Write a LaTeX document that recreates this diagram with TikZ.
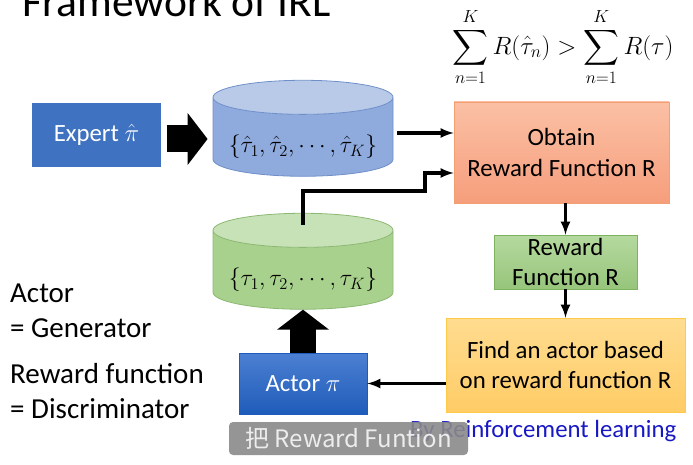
\RequirePackage{fix-cm}
\documentclass[tikz,border=0pt]{standalone}
\usepackage{exscale}
\usepackage{fontspec}
\setmainfont{Carlito}
\newfontfamily\cjkfont{Noto Sans CJK SC}
\usetikzlibrary{arrows,arrows.meta,shapes.geometric}

\definecolor{expertblue}{HTML}{3F72C1}
\definecolor{actortop}{HTML}{4C80D2}
\definecolor{actorbot}{HTML}{1F5CBA}
\definecolor{bluebody}{HTML}{8FAADC}
\definecolor{bluetop}{HTML}{B8CAE8}
\definecolor{blueline}{HTML}{6F8FC9}
\definecolor{greenbody}{HTML}{A9D18E}
\definecolor{greentop}{HTML}{C8E2B8}
\definecolor{greenline}{HTML}{8BB872}
\definecolor{obtaintop}{HTML}{FBC0A5}
\definecolor{obtainbot}{HTML}{F69E7C}
\definecolor{obtainline}{HTML}{F2A072}
\definecolor{rewardtop}{HTML}{B5D99F}
\definecolor{rewardbot}{HTML}{97C57B}
\definecolor{rewardline}{HTML}{7DB35F}
\definecolor{findtop}{HTML}{FFDC90}
\definecolor{findbot}{HTML}{FFCC66}
\definecolor{findline}{HTML}{FFC94A}
\definecolor{rlblue}{HTML}{1818C4}
\definecolor{subgray}{HTML}{8A8A8A}

\tikzset{
  box/.style={draw,line width=0.8pt,align=center,inner sep=0pt,
    font=\fontsize{24.8}{30.5}\selectfont},
  db/.style={cylinder,shape border rotate=90,aspect=0.23,draw,line width=0.8pt,
    minimum width=180pt,minimum height=96pt,inner sep=0pt,
    cylinder uses custom fill,font=\fontsize{23.5}{30}\selectfont},
  conn/.style={-latex,line width=3.4pt},
  bigarrow/.style={line width=27pt,-{Triangle[length=20pt,width=51pt]}},
  side/.style={anchor=base west,inner sep=0pt,font=\fontsize{29}{34}\selectfont},
}

\begin{document}
\begin{tikzpicture}[x=1pt,y=-1pt]
\useasboundingbox (0,0) rectangle (693,465);
\node[anchor=base west,inner sep=0pt,font=\fontsize{43.5}{50}\selectfont] (title) at (22,17) {Framework of IRL};
\node[inner sep=0pt,font=\fontsize{25}{30}\selectfont] (goal) at (563,47) {$\displaystyle\sum_{n=1}^{K} R(\hat{\tau}_n) > \sum_{n=1}^{K} R(\tau)$};
\node[box,draw=expertblue,fill=expertblue,text=white,minimum width=128pt,minimum height=63pt] (expert) at (96.5,134.5) {Expert $\hat{\pi}$};
\node[db,draw=blueline,cylinder body fill=bluebody,cylinder end fill=bluetop] (demo) at (303,137) {\raisebox{-10pt}[\height][\depth]{$\{\hat{\tau}_1,\hat{\tau}_2,\cdots,\hat{\tau}_K\}$}};
\node[db,draw=greenline,cylinder body fill=greenbody,cylinder end fill=greentop] (green) at (303,270) {\raisebox{-10pt}[\height][\depth]{$\{\tau_1,\tau_2,\cdots,\tau_K\}$}};
\node[box,draw=obtainline,top color=obtaintop,bottom color=obtainbot,minimum width=215pt,minimum height=101pt] (obtain) at (561.5,152.5) {Obtain\\Reward Function R};
\node[box,draw=rewardline,top color=rewardtop,bottom color=rewardbot,minimum width=143pt,minimum height=54pt] (reward) at (565.5,262) {Reward\\Function R};
\node[box,draw=findline,top color=findtop,bottom color=findbot,minimum width=239pt,minimum height=94pt] (find) at (565.5,365) {Find an actor based\\on reward function R};
\node[box,draw=actorbot,top color=actortop,bottom color=actorbot,text=white,minimum width=128pt,minimum height=61pt] (actor) at (303,383.5) {Actor $\pi$};
\node[side] (actorlbl) at (10,302) {Actor};
\node[side] (genlbl) at (10,337) {= Generator};
\node[side] (rflbl) at (10,383) {Reward function};
\node[side] (disclbl) at (10,418) {= Discriminator};
\node[anchor=base west,inner sep=0pt,text=rlblue,font=\fontsize{24.8}{30}\selectfont] (rl) at (410,437) {By Reinforcement learning};
\node[rounded corners=4pt,fill=subgray,fill opacity=0.9,text opacity=1,text=white!93!black,minimum width=239pt,minimum height=33pt,inner sep=0pt,font=\cjkfont\fontsize{24}{28}\selectfont] (sub) at (348.5,438.5) {把 Reward Funtion};
\draw [bigarrow,shorten <=6pt,shorten >=5pt] ([yshift=-4.5pt]expert.east) -- ([yshift=-4.5pt]expert.east -| demo.west);
\draw [bigarrow,line width=26pt] (actor.north) -- (actor.north |- green.south);
\draw [conn,shorten <=4pt] ([yshift=19.5pt]obtain.west -| demo.east) -- ([yshift=19.5pt]obtain.west);
\draw [conn] ([yshift=-12pt]green.north) -- ++(0,-34) -- ++(122,0) |- ([yshift=-20.5pt]obtain.west);
\draw [conn] (obtain.south -| reward.north) -- (reward.north);
\draw [conn] (reward.south) -- (reward.south |- find.north);
\draw [conn] (find.west |- actor) -- (actor.east);
\end{tikzpicture}
\end{document}
